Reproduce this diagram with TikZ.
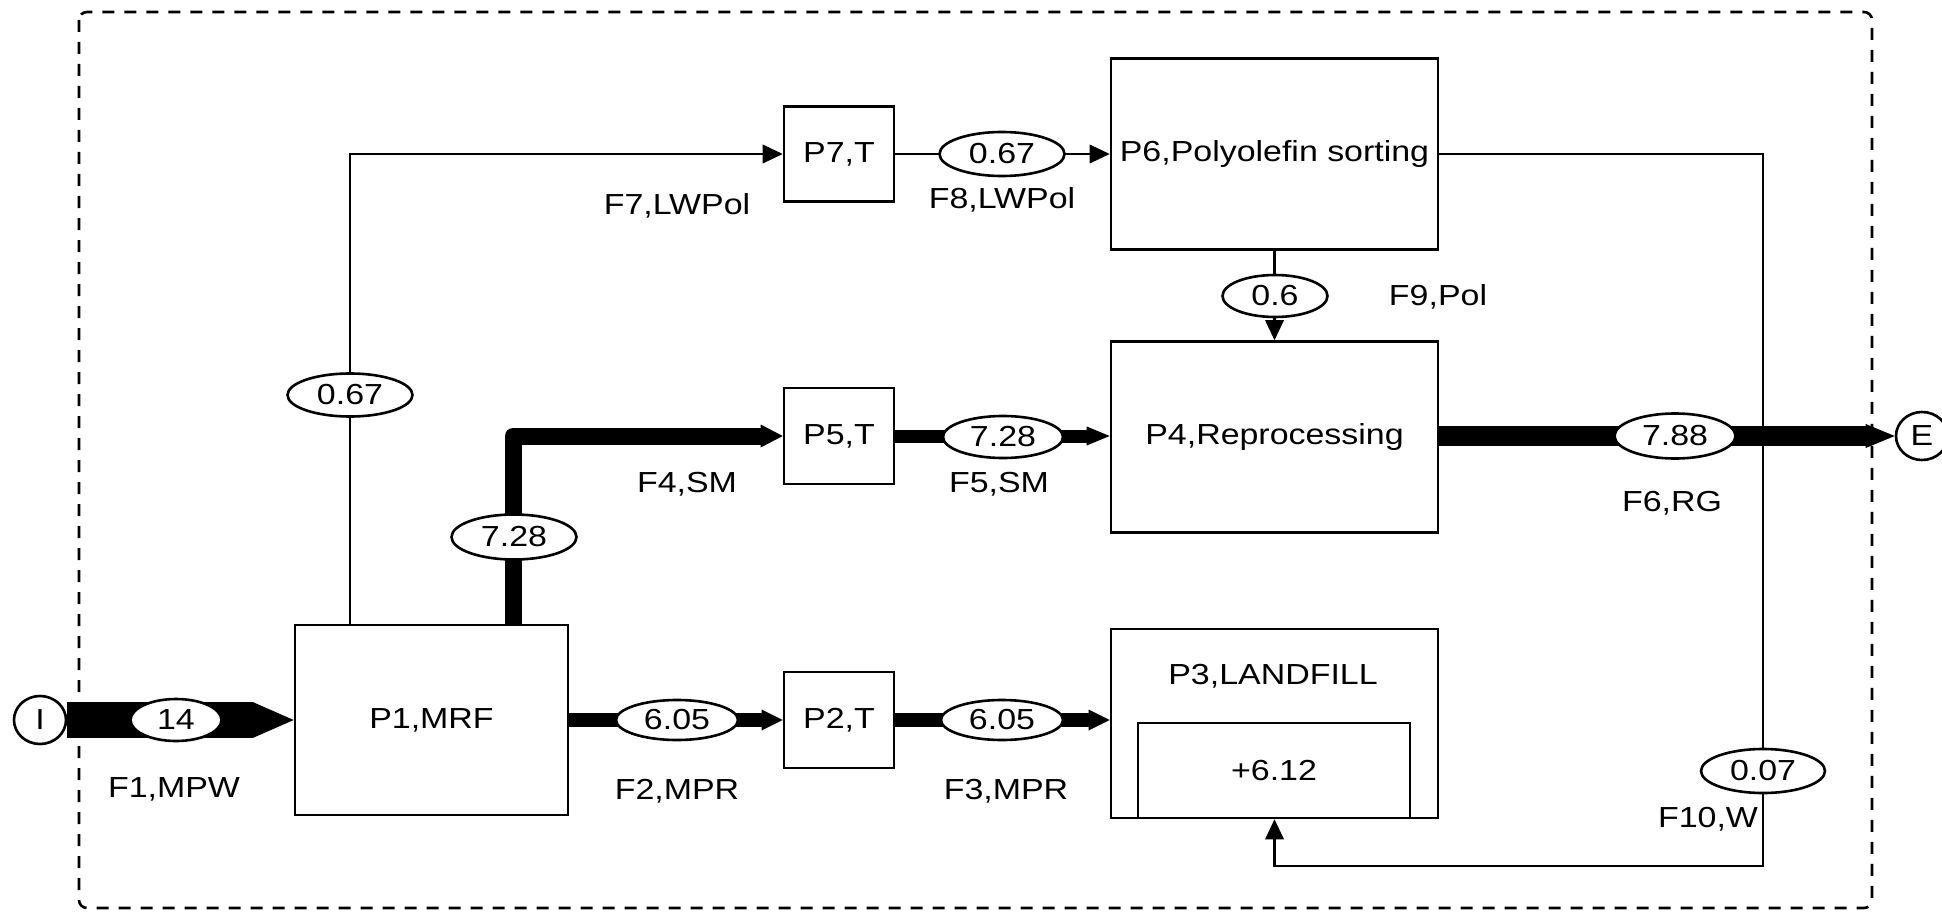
\documentclass[tikz,border=0pt]{standalone}
\usepackage{fontspec}
\setmainfont{Liberation Sans}[FakeStretch=1.17]
\usetikzlibrary{arrows.meta,shapes.geometric}
\begin{document}
\begin{tikzpicture}[x=1pt,y=-1pt,
  font=\fontsize{29}{34}\selectfont,
  proc/.style={draw, line width=2.6pt, inner sep=0pt},
  val/.style={draw, fill=white, ellipse, line width=2.6pt, inner sep=0pt},
  term/.style={draw, fill=white, ellipse, line width=2.6pt, inner sep=0pt, minimum width=52pt, minimum height=48pt},
  lbl/.style={inner sep=0pt},
  thinarrow/.style={line width=2.6pt, -{Triangle[length=20pt,width=19pt,line width=0pt]}},
  flowA/.style={line width=36pt, -{Triangle[length=41pt,width=36pt,line width=0pt]}},
  flowB/.style={line width=14pt, -{Triangle[length=21pt,width=21pt,line width=0pt]}},
  flowC/.style={line width=17pt, line join=round, -{Triangle[length=22pt,width=23pt,line width=0pt]}},
  flowD/.style={line width=13pt, -{Triangle[length=23pt,width=19pt,line width=0pt]}},
  flowE/.style={line width=20pt, -{Triangle[length=29pt,width=24pt,line width=0pt]}},
  frame/.style={line width=2.6pt, dash pattern=on 12pt off 10pt, rounded corners=8pt}
]
\useasboundingbox (0,0) rectangle (1942,912);
\draw[frame] (79,12) rectangle (1872,908);

% processes
\node[proc, minimum width=273pt, minimum height=190pt] (P1) at (431.5,720) {P1,MRF};
\node[proc, minimum width=110pt, minimum height=96pt] (P2) at (839,720) {P2,T};
\node[proc, minimum width=327pt, minimum height=189pt] (P3) at (1274.5,723.5) {};
\node[lbl] (P3t) at (1273,676) {P3,LANDFILL};
\node[proc, minimum width=272pt, minimum height=95pt] (P3s) at (1274,770.5) {+6.12};
\node[proc, minimum width=327pt, minimum height=191pt] (P4) at (1274.5,437) {P4,Reprocessing};
\node[proc, minimum width=110pt, minimum height=96pt] (P5) at (839,436) {P5,T};
\node[proc, minimum width=327pt, minimum height=191pt] (P6) at (1274.5,154) {P6,Polyolefin sorting};
\node[proc, minimum width=110pt, minimum height=95pt] (P7) at (839,154) {P7,T};
\node[term] (I) at (40,720) {I};
\node[term] (E) at (1922,436) {E};

% helper coordinates
\coordinate (c4) at (513,0);
\coordinate (c7) at (350,0);
\coordinate (c10) at (1763,866);

% flows
\draw[flowA] (I.east) -- (P1.west);
\draw[flowB] (P1.east) -- (P2.west);
\draw[flowB] (P2.east) -- (P2.east -| P3.west);
\draw[flowC] (P1.north -| c4) |- (P5.west);
\draw[flowD] (P5.east) -- (P5.east -| P4.west);
\draw[flowE] (P5.east -| P4.east) -- (E.west);
\draw[thinarrow] (P1.north -| c7) |- (P7.west);
\draw[thinarrow] (P7.east) -- (P7.east -| P6.west);
\draw[thinarrow] (P6.south) -- (P4.north);
\draw[thinarrow] (P6.east) -| (c10) -| (P3.south);

% values
\node[val, minimum width=91pt, minimum height=42pt] (v1) at (176,720) {14};
\node[val, minimum width=122pt, minimum height=40pt] (v2) at (677,720) {6.05};
\node[val, minimum width=122pt, minimum height=40pt] (v3) at (1002,720) {6.05};
\node[val, minimum width=125pt, minimum height=45pt] (v4) at (514,537) {7.28};
\node[val, minimum width=120pt, minimum height=42pt] (v5) at (1003,437) {7.28};
\node[val, minimum width=121pt, minimum height=45pt] (v6) at (1675,436) {7.88};
\node[val, minimum width=125pt, minimum height=43pt] (v7) at (350,395) {0.67};
\node[val, minimum width=125pt, minimum height=44pt] (v8) at (1002,154) {0.67};
\node[val, minimum width=105pt, minimum height=42pt] (v9) at (1275,296) {0.6};
\node[val, minimum width=124pt, minimum height=44pt] (v10) at (1763,771) {0.07};

% flow labels
\node[lbl] (l1) at (174,789) {F1,MPW};
\node[lbl] (l2) at (677,791) {F2,MPR};
\node[lbl] (l3) at (1006,791) {F3,MPR};
\node[lbl] (l4) at (687,484) {F4,SM};
\node[lbl] (l5) at (999,484) {F5,SM};
\node[lbl] (l6) at (1672,503) {F6,RG};
\node[lbl] (l7) at (677,206) {F7,LWPol};
\node[lbl] (l8) at (1002,200) {F8,LWPol};
\node[lbl] (l9) at (1438,297) {F9,Pol};
\node[lbl] (l10) at (1708,819) {F10,W};
\end{tikzpicture}
\end{document}
